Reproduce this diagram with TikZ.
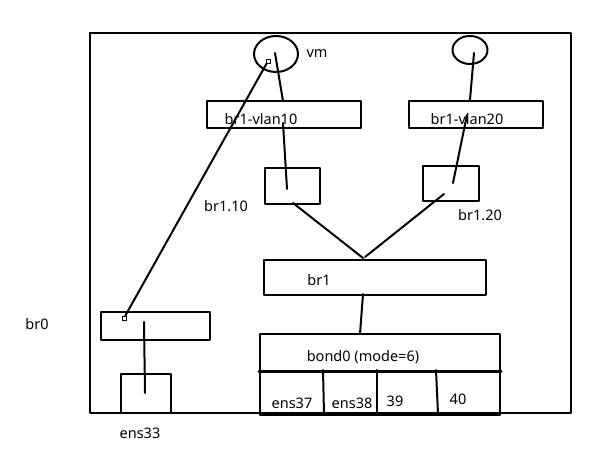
\documentclass[tikz,border=0pt]{standalone}
\usepackage{fontspec}
\setmainfont{Noto Sans}
\usetikzlibrary{shapes.geometric}

\begin{document}
\begin{tikzpicture}[line cap=round,line join=round,x=1pt,y=-1pt,
  box/.style={draw,line width=2pt,inner sep=0pt,anchor=north west},
  oval/.style={draw,ellipse,line width=2pt,inner sep=0pt},
  wire/.style={line width=2pt},
  portmark/.style={draw,line width=0.6pt,inner sep=0pt,minimum size=4pt},
  lbl/.style={font=\fontsize{14.5}{16}\selectfont,inner sep=0pt}]
\useasboundingbox (0,0) rectangle (595,454);
\draw[line width=2.2pt] (90,33) rectangle (571,413);
\node[oval,minimum width=44,minimum height=36] (vm) at (276,54) {};
\node[oval,minimum width=35,minimum height=28] (vmb) at (470,50) {};
\node[box,minimum width=154,minimum height=27] (vlanten) at (206,100) {};
\node[box,minimum width=134,minimum height=27] (vlantwenty) at (408,100) {};
\node[box,minimum width=55,minimum height=36] (brten) at (264,167) {};
\node[box,minimum width=56,minimum height=35] (brtwenty) at (422,165) {};
\node[box,minimum width=222,minimum height=35] (brone) at (263,259) {};
\node[box,minimum width=240,minimum height=37] (bond) at (259,333) {};
\node[box,minimum width=240,minimum height=44] (ports) at (259,370) {};
\node[box,minimum width=109,minimum height=28] (brzero) at (100,311) {};
\node[box,minimum width=50,minimum height=39] (ensbox) at (120,373) {};
\node[portmark] (vmport) at (268,61) {};
\node[portmark] (brzeroport) at (124,318) {};
\coordinate (vmc) at (275,53);
\coordinate (vmbc) at (474,53);
\coordinate (vlantentop) at (283,101);
\coordinate (vlantenin) at (283,123);
\coordinate (brtenin) at (287,189);
\coordinate (brtenlow) at (293,203);
\coordinate (vlantwentytop) at (470,100);
\coordinate (vlantwentyin) at (467,115);
\coordinate (brtwentyin) at (453,183);
\coordinate (brtwentylow) at (444,194);
\coordinate (bronetopl) at (363,258);
\coordinate (bronetopr) at (365,257);
\coordinate (bronelow) at (363,294);
\coordinate (bondtop) at (360,334);
\coordinate (brzeroin) at (144,322);
\coordinate (ensin) at (145,393);
\draw[wire] (vmc) -- (vlantentop);
\draw[wire] (vlantenin) -- (brtenin);
\draw[wire] (vmbc) -- (vlantwentytop);
\draw[wire] (vlantwentyin) -- (brtwentyin);
\draw[wire] (brtenlow) -- (bronetopl);
\draw[wire] (brtwentylow) -- (bronetopr);
\draw[wire] (bronelow) -- (bondtop);
\draw[wire] (vmport) -- (brzeroport);
\draw[wire] (brzeroin) -- (ensin);
\draw[wire] (323,370) -- (324,414);
\draw[wire] (377,370) -- (377,414);
\draw[wire] (436,370) -- (438,414);
\draw[line width=3pt] (bond.south west) -- (bond.south east);
\node[lbl] (vmtext) at (317,54) {vm};
\node[lbl] (vlantentext) at (261,119) {br1-vlan10};
\node[lbl] (vlantwentytext) at (467,119) {br1-vlan20};
\node[lbl] (brtentext) at (226,206) {br1.10};
\node[lbl] (brtwentytext) at (480,215) {br1.20};
\node[lbl] (bronetext) at (319,280) {br1};
\node[lbl] (bondtext) at (363,357) {bond0 (mode=6)};
\node[lbl] (enstsv) at (292,403) {ens37};
\node[lbl] (enste) at (352,403) {ens38};
\node[lbl] (enstn) at (395,401) {39};
\node[lbl] (ensfo) at (458,399) {40};
\node[lbl] (brzerotext) at (37,324) {br0};
\node[lbl] (enstt) at (140,433) {ens33};
\end{tikzpicture}
\end{document}
